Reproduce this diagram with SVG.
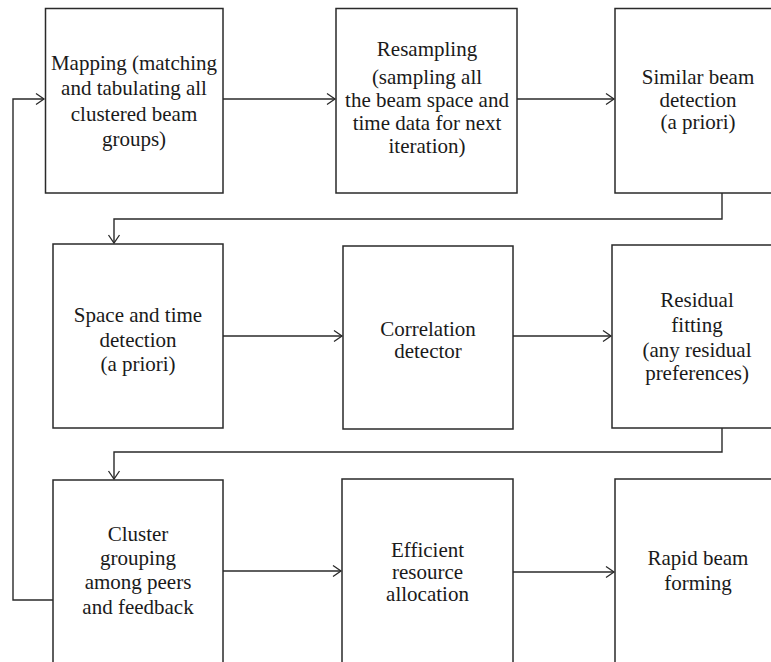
<svg xmlns="http://www.w3.org/2000/svg" width="771" height="662" viewBox="0 0 771 662">
  <style>
    .box { fill: #ffffff; stroke: #2a2a2a; stroke-width: 1.5; }
    .lbl { font-family: "Liberation Serif", "Times New Roman", serif; font-size: 21px; fill: #1a1a1a; text-anchor: middle; }
    .conn { fill: none; stroke: #2a2a2a; stroke-width: 1.4; }
  </style>
  <defs>
    <marker id="arr" markerUnits="userSpaceOnUse" viewBox="-10 -7 12 14" refX="0" refY="0" markerWidth="12" markerHeight="14" orient="auto">
      <path d="M-8,-5.5 L0,0 L-8,5.5" fill="none" stroke="#2a2a2a" stroke-width="1.3"/>
    </marker>
  </defs>
  <rect width="771" height="662" fill="#ffffff"/>

  <g id="connectors">
    <path class="conn" d="M223,99 H335" marker-end="url(#arr)"/>
    <path class="conn" d="M517,99 H614" marker-end="url(#arr)"/>
    <path class="conn" d="M722,193 V219 H114 V243" marker-end="url(#arr)"/>
    <path class="conn" d="M223,336 H342" marker-end="url(#arr)"/>
    <path class="conn" d="M513,336 H611" marker-end="url(#arr)"/>
    <path class="conn" d="M722,428 V452 H114 V479" marker-end="url(#arr)"/>
    <path class="conn" d="M223,571 H341" marker-end="url(#arr)"/>
    <path class="conn" d="M513,572 H614" marker-end="url(#arr)"/>
    <path class="conn" d="M53,600 H13 V99 H44" marker-end="url(#arr)"/>
  </g>

  <g id="mapping">
    <rect class="box" x="45.5" y="8.5" width="177.5" height="184.5"/>
    <text class="lbl" x="134" y="70">Mapping (matching</text>
    <text class="lbl" x="134" y="95">and tabulating all</text>
    <text class="lbl" x="134" y="121">clustered beam</text>
    <text class="lbl" x="134" y="146">groups)</text>
  </g>

  <g id="resampling">
    <rect class="box" x="336" y="8.5" width="181" height="184.5"/>
    <text class="lbl" x="427" y="56">Resampling</text>
    <text class="lbl" x="427" y="84">(sampling all</text>
    <text class="lbl" x="427" y="107">the beam space and</text>
    <text class="lbl" x="427" y="130">time data for next</text>
    <text class="lbl" x="427" y="153">iteration)</text>
  </g>

  <g id="similar">
    <rect class="box" x="615" y="8.5" width="170" height="184.5"/>
    <text class="lbl" x="698" y="84">Similar beam</text>
    <text class="lbl" x="698" y="107">detection</text>
    <text class="lbl" x="698" y="129">(a priori)</text>
  </g>

  <g id="spacetime">
    <rect class="box" x="53" y="244" width="170" height="184"/>
    <text class="lbl" x="138" y="322">Space and time</text>
    <text class="lbl" x="138" y="347">detection</text>
    <text class="lbl" x="138" y="371">(a priori)</text>
  </g>

  <g id="correlation">
    <rect class="box" x="343" y="246" width="170" height="183"/>
    <text class="lbl" x="428" y="336">Correlation</text>
    <text class="lbl" x="428" y="358">detector</text>
  </g>

  <g id="residual">
    <rect class="box" x="612" y="245" width="170" height="183"/>
    <text class="lbl" x="697" y="307">Residual</text>
    <text class="lbl" x="697" y="332">fitting</text>
    <text class="lbl" x="697" y="357">(any residual</text>
    <text class="lbl" x="697" y="380">preferences)</text>
  </g>

  <g id="cluster">
    <rect class="box" x="53" y="480" width="170" height="200"/>
    <text class="lbl" x="138" y="541">Cluster</text>
    <text class="lbl" x="138" y="565">grouping</text>
    <text class="lbl" x="138" y="589">among peers</text>
    <text class="lbl" x="138" y="614">and feedback</text>
  </g>

  <g id="efficient">
    <rect class="box" x="342" y="479" width="171" height="200"/>
    <text class="lbl" x="427.5" y="557">Efficient</text>
    <text class="lbl" x="427.5" y="579">resource</text>
    <text class="lbl" x="427.5" y="601">allocation</text>
  </g>

  <g id="rapid">
    <rect class="box" x="615" y="479" width="170" height="200"/>
    <text class="lbl" x="698" y="565">Rapid beam</text>
    <text class="lbl" x="698" y="590">forming</text>
  </g>
</svg>
